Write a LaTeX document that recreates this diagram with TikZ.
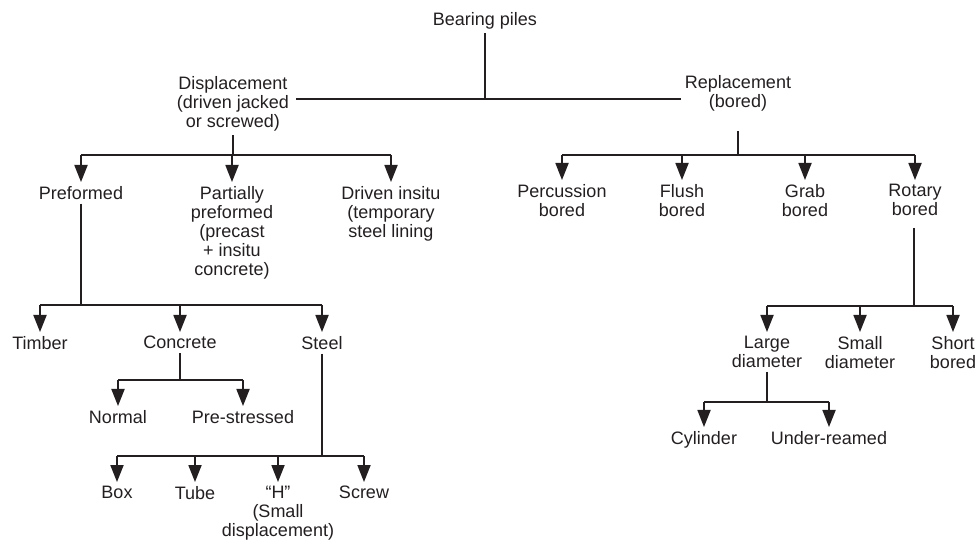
\documentclass[tikz,border=0pt]{standalone}
\usepackage{fontspec}
\setmainfont{Liberation Sans}
\usepackage{tikz}
\usetikzlibrary{arrows.meta,positioning,calc}
\definecolor{ink}{RGB}{35,31,32}
\tikzset{
  item/.style={align=center,anchor=north,inner sep=4pt,font=\fontsize{18}{19}\selectfont},
  arr/.style={-{Triangle[length=17pt,width=13pt]}},
  bar/.style={draw=ink,line width=1.8pt}
}
\begin{document}
\begin{tikzpicture}[x=1pt,y=-1pt,ink]
\useasboundingbox (0,0) rectangle (978,545);
% top levels
\node[item] (bp) at (485,8) {Bearing piles};
\node[item] (disp) at (233,72) {Displacement\\(driven jacked\\or screwed)};
\node[item] (rep) at (738,71) {Replacement\\(bored)};
% displacement branch
\node[item] (pre) at (81,182) {Preformed};
\node[item] (part) at (232,182) {Partially\\preformed\\(precast\\+ insitu\\concrete)};
\node[item] (drv) at (391,182) {Driven insitu\\(temporary\\steel lining};
\node[item] (tim) at (40,332) {Timber};
\node[item] (conc) at (180,332) {Concrete};
\node[item] (steel) at (322,332) {Steel};
\node[item] (norm) at (118,406) {Normal};
\node[item] (pres) at (243,406) {Pre-stressed};
\node[item] (box) at (117,482) {Box};
\node[item] (tube) at (195,482) {Tube};
\node[item] (hh) at (278,482) {“H”\\(Small\\displacement)};
\node[item] (screw) at (364,482) {Screw};
% replacement branch
\node[item] (perc) at (562,180) {Percussion\\bored};
\node[item] (flush) at (682,180) {Flush\\bored};
\node[item] (grab) at (805,180) {Grab\\bored};
\node[item] (rot) at (915,180) {Rotary\\bored};
\node[item] (large) at (767,332) {Large\\diameter};
\node[item] (small) at (860,332) {Small\\diameter};
\node[item] (short) at (953,332) {Short\\bored};
\node[item] (cyl) at (704,427) {Cylinder};
\node[item] (under) at (829,427) {Under-reamed};
% junction rows
\coordinate (j0) at (485,99);
\coordinate (j1) at (0,155);
\coordinate (j2) at (0,155);
\coordinate (j3) at (0,305);
\coordinate (j4) at (0,380);
\coordinate (j5) at (0,456);
\coordinate (j6) at (0,306);
\coordinate (j7) at (0,402);
% connectors
\begin{scope}[bar]
\draw (bp.south) -- (j0);
\draw ([xshift=3pt]disp.east |- j0) -- (rep.west |- j0);
\draw (disp.south) -- (disp.south |- j1);
\draw (pre.north |- j1) -- (drv.north |- j1);
\draw ([yshift=-16pt]rep.south) -- (rep.south |- j2);
\draw (perc.north |- j2) -- (rot.north |- j2);
\draw (pre.south) -- (pre.south |- j3);
\draw (tim.north |- j3) -- (steel.north |- j3);
\draw (conc.south) -- (conc.south |- j4);
\draw (norm.north |- j4) -- (pres.north |- j4);
\draw (steel.south) -- (steel.south |- j5);
\draw (box.north |- j5) -- (screw.north |- j5);
\draw ([xshift=-1pt,yshift=-8pt]rot.south) -- ([xshift=-1pt]rot.south |- j6);
\draw (large.north |- j6) -- (short.north |- j6);
\draw (large.south) -- (large.south |- j7);
\draw (cyl.north |- j7) -- (under.north |- j7);
\foreach \c/\j in {pre/j1,part/j1,drv/j1,perc/j2,flush/j2,grab/j2,rot/j2,tim/j3,conc/j3,steel/j3,norm/j4,pres/j4,box/j5,tube/j5,hh/j5,screw/j5,large/j6,small/j6,short/j6,cyl/j7,under/j7}
  \draw[arr] (\c.north |- \j) -- (\c.north);
\end{scope}
\end{tikzpicture}
\end{document}
